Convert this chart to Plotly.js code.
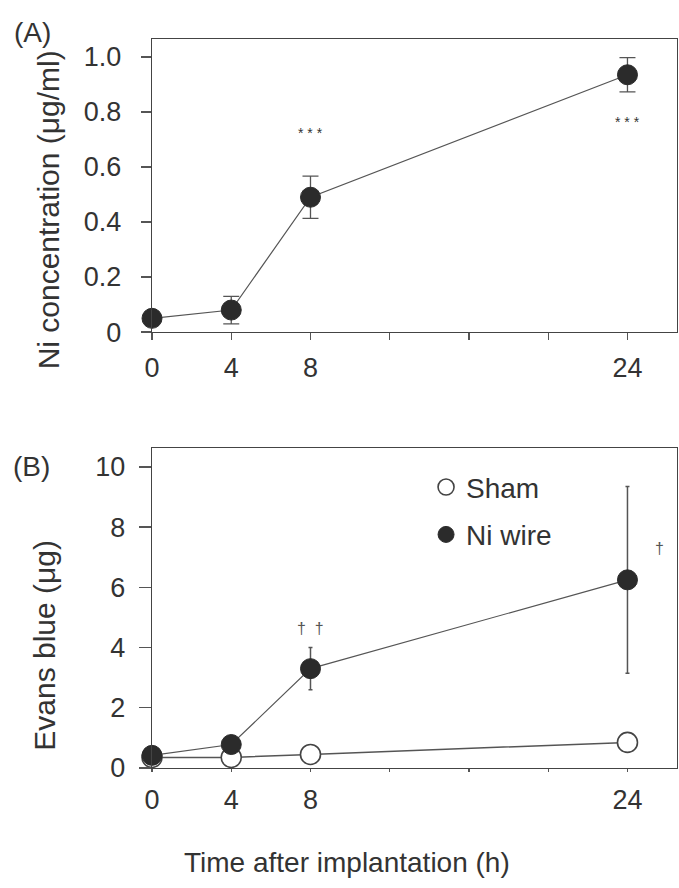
<!DOCTYPE html>
<html>
<head>
<meta charset="utf-8">
<script src="https://cdn.plot.ly/plotly-3.0.1.min.js"></script>
<style>html,body{margin:0;padding:0;background:#fff;}#chart{width:679px;height:888px;}</style>
</head>
<body>
<div id="chart"></div>
<script>
// ---- data ----
const hours = [0, 4, 8, 24];
const niConc = [0.05, 0.08, 0.49, 0.935];
const niConcErr = [0.01, 0.05, 0.077, 0.062];
const shamEB = [0.35, 0.35, 0.45, 0.85];
const shamEBErr = [0.05, 0.05, 0.05, 0.3];
const niEB = [0.42, 0.78, 3.3, 6.25];
const niEBErr = [0.05, 0.2, 0.7, 3.1];
const xTickVals = [0, 4, 8, 12, 16, 20, 24];
const xTickText = ['0', '4', '8', '', '', '', '24'];
const yATickVals = [0, 0.2, 0.4, 0.6, 0.8, 1.0];
const yATickText = ['0', '0.2', '0.4', '0.6', '0.8', '1.0'];
const yBTickVals = [0, 2, 4, 6, 8, 10];
const sigA_x = [8, 24];
const sigA_y = [0.724, 0.764];
const sigA_t = ['* * *', '* * *'];
const sigB_x = [8, 25.6];
const sigB_y = [4.65, 7.3];
const sigB_t = ['†  †', '†'];

const FONT = 'Liberation Sans, Arial, sans-serif';
const TXT = '#333';
const LINE = '#555';
const MARK = '#2b2b2b';

const traces = [
  {
    x: hours, y: niConc, xaxis: 'x', yaxis: 'y', type: 'scatter', mode: 'lines+markers',
    showlegend: false, cliponaxis: false,
    line: {color: LINE, width: 1.2},
    marker: {color: MARK, size: 20, line: {color: MARK, width: 1}},
    error_y: {type: 'data', array: niConcErr, visible: true, color: LINE, thickness: 1.3, width: 8}
  },
  {
    x: hours, y: shamEB, xaxis: 'x2', yaxis: 'y2', type: 'scatter', mode: 'lines+markers',
    name: 'Sham', showlegend: false, cliponaxis: false,
    line: {color: LINE, width: 1.5},
    marker: {color: '#ffffff', size: 20, line: {color: '#444', width: 1.6}},
    error_y: {type: 'data', array: shamEBErr, visible: true, color: LINE, thickness: 1.3, width: 2}
  },
  {
    x: hours, y: niEB, xaxis: 'x2', yaxis: 'y2', type: 'scatter', mode: 'lines+markers',
    name: 'Ni wire', showlegend: false, cliponaxis: false,
    line: {color: LINE, width: 1.2},
    marker: {color: MARK, size: 20, line: {color: MARK, width: 1}},
    error_y: {type: 'data', array: niEBErr, visible: true, color: LINE, thickness: 1.5, width: 2}
  },
  // legend-only entries (markers without line)
  {
    x: [null], y: [null], xaxis: 'x2', yaxis: 'y2', type: 'scatter', mode: 'markers',
    name: 'Sham', legend: 'legend',
    marker: {color: '#ffffff', size: 20, line: {color: '#444', width: 1.6}}
  },
  {
    x: [null], y: [null], xaxis: 'x2', yaxis: 'y2', type: 'scatter', mode: 'markers',
    name: 'Ni wire', legend: 'legend2',
    marker: {color: MARK, size: 20, line: {color: MARK, width: 1}}
  }
];

const xCommon = {
  range: [0, 26.5], tickmode: 'array', tickvals: xTickVals, ticktext: xTickText,
  showline: true, mirror: true, linecolor: '#444', linewidth: 1.3,
  ticks: 'outside', ticklen: 7, tickcolor: '#555', tickwidth: 1.3,
  showgrid: false, zeroline: false,
  tickfont: {family: FONT, size: 27, color: TXT}, ticklabelstandoff: 4
};

const annotations = [];
annotations.push({text: 'Ni concentration (μg/ml)', xref: 'paper', yref: 'paper', x: -0.198, y: 0.765,
  textangle: -90, showarrow: false, xanchor: 'center', yanchor: 'middle',
  font: {family: FONT, size: 30, color: TXT}});
annotations.push({text: 'Evans blue (μg)', xref: 'paper', yref: 'paper', x: -0.204, y: 0.169,
  textangle: -90, showarrow: false, xanchor: 'center', yanchor: 'middle',
  font: {family: FONT, size: 30, color: TXT}});
annotations.push({text: '(A)', xref: 'paper', yref: 'paper', x: -0.227, y: 1.0096, showarrow: false,
  xanchor: 'center', yanchor: 'middle', font: {family: FONT, size: 28, color: TXT}});
annotations.push({text: '(B)', xref: 'paper', yref: 'paper', x: -0.23, y: 0.413, showarrow: false,
  xanchor: 'center', yanchor: 'middle', font: {family: FONT, size: 28, color: TXT}});
annotations.push({text: 'Time after implantation (h)', xref: 'paper', yref: 'paper', x: 0.371, y: -0.130,
  showarrow: false, xanchor: 'center', yanchor: 'middle', font: {family: FONT, size: 28, color: TXT}});
for (let i = 0; i < sigA_x.length; i++) {
  annotations.push({text: sigA_t[i], xref: 'x', yref: 'y', x: sigA_x[i], y: sigA_y[i], showarrow: false,
    xanchor: 'center', yanchor: 'middle', font: {family: FONT, size: 14, color: '#333'}});
}
for (let i = 0; i < sigB_x.length; i++) {
  annotations.push({text: sigB_t[i], xref: 'x2', yref: 'y2', x: sigB_x[i], y: sigB_y[i], showarrow: false,
    xanchor: 'center', yanchor: 'middle', font: {family: FONT, size: 16, color: '#555'}});
}

const layout = {
  width: 679, height: 888,
  margin: {l: 152, r: 2, t: 39, b: 120},
  paper_bgcolor: '#ffffff', plot_bgcolor: '#ffffff',
  font: {family: FONT, color: TXT},
  xaxis: Object.assign({}, xCommon, {anchor: 'y', domain: [0, 1]}),
  xaxis2: Object.assign({}, xCommon, {anchor: 'y2', domain: [0, 1], ticklen: 3}),
  yaxis: {
    domain: [0.598, 1], range: [0, 1.065], anchor: 'x',
    tickmode: 'array', tickvals: yATickVals, ticktext: yATickText,
    showline: true, mirror: true, linecolor: '#444', linewidth: 1.3,
    ticks: 'outside', ticklen: 10, tickcolor: '#555', tickwidth: 1.3,
    showgrid: false, zeroline: false,
    tickfont: {family: FONT, size: 27, color: TXT}, ticklabelstandoff: 14
  },
  yaxis2: {
    domain: [0, 0.439], range: [0, 10.63], anchor: 'x2',
    tickmode: 'array', tickvals: yBTickVals,
    showline: true, mirror: true, linecolor: '#444', linewidth: 1.3,
    ticks: 'outside', ticklen: 12, tickcolor: '#555', tickwidth: 1.3,
    showgrid: false, zeroline: false,
    tickfont: {family: FONT, size: 27, color: TXT}, ticklabelstandoff: 8
  },
  legend: {x: 0.522, y: 0.385, xanchor: 'left', yanchor: 'middle', bgcolor: 'rgba(0,0,0,0)',
    font: {family: FONT, size: 28, color: TXT}, itemwidth: 30},
  legend2: {x: 0.522, y: 0.320, xanchor: 'left', yanchor: 'middle', bgcolor: 'rgba(0,0,0,0)',
    font: {family: FONT, size: 28, color: TXT}, itemwidth: 30},
  annotations: annotations,
  showlegend: true
};

Plotly.newPlot('chart', traces, layout, {displayModeBar: false, staticPlot: true});
</script>
</body>
</html>
